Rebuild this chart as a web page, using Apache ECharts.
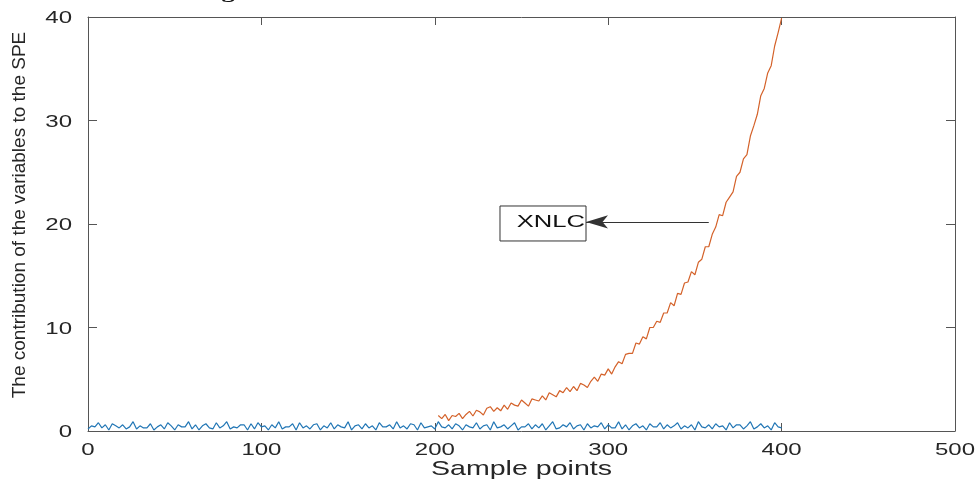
<!DOCTYPE html>
<html><head><meta charset="utf-8">
<script src="https://cdn.jsdelivr.net/npm/echarts@6/dist/echarts.min.js"></script>
<style>html,body{margin:0;padding:0;background:#fff}#c{width:979px;height:482px}</style>
</head><body><div id="c"></div>
<script>
const titleText = 'Figure 6. Contribution of the XNLC sensor variable';
const xName = 'Sample points';
const yName = 'The contribution of the variables to the SPE';
const xTicks = [0, 100, 200, 300, 400, 500];
const yTicks = [0, 10, 20, 30, 40];

// blue series: sample points 0,2,4,...,400
const blueStart = 0, blueStep = 2;
const blueValues = [
0.2,0.5,0.4,0.8,0.3,0.6,0.1,0.7,0.5,0.3,
0.6,0.2,0.4,0.9,0.2,0.5,0.3,0.3,0.7,0.1,
0.4,0.6,0.2,0.8,0.5,0.1,0.6,0.4,0.4,0.9,
0.2,0.6,0.1,0.5,0.7,0.3,0.2,0.8,0.3,0.5,
0.9,0.2,0.4,0.3,0.6,0.6,0.1,0.7,0.2,0.8,
0.4,0.5,0.1,0.6,0.3,0.9,0.2,0.4,0.4,0.7,
0.1,0.8,0.3,0.5,0.2,0.6,0.7,0.1,0.5,0.3,
0.8,0.2,0.6,0.4,0.3,0.9,0.1,0.5,0.6,0.2,
0.7,0.3,0.5,0.1,0.8,0.4,0.4,0.6,0.2,0.9,
0.3,0.5,0.2,0.7,0.6,0.1,0.8,0.3,0.4,0.5,
0.2,0.9,0.4,0.3,0.6,0.2,0.7,0.5,0.1,0.6,
0.4,0.3,0.8,0.2,0.5,0.6,0.1,0.9,0.3,0.4,
0.6,0.2,0.5,0.8,0.1,0.4,0.4,0.7,0.2,0.6,
0.3,0.7,0.1,0.5,0.9,0.2,0.3,0.6,0.4,0.8,
0.2,0.5,0.6,0.1,0.7,0.3,0.5,0.4,0.8,0.2,
0.6,0.3,0.3,0.9,0.2,0.6,0.1,0.5,0.7,0.3,
0.5,0.1,0.7,0.4,0.4,0.8,0.2,0.6,0.3,0.5,
0.8,0.2,0.5,0.3,0.6,0.1,0.9,0.4,0.3,0.6,
0.2,0.7,0.4,0.5,0.1,0.8,0.3,0.6,0.6,0.2,
0.5,0.9,0.2,0.4,0.7,0.3,0.5,0.1,0.8,0.4,
0.3
];

// orange (XNLC) series: sample points 202,204,...,400
const orangeStart = 202, orangeStep = 2;
const orangeValues = [
1.5,1.2,1.6,1.0,1.5,1.4,1.7,1.2,1.6,1.9,
1.45,2.0,1.85,1.55,2.2,2.35,1.9,2.25,1.95,2.5,
2.1,2.7,2.5,2.4,3.0,2.7,2.4,3.1,3.0,2.9,
3.4,3.0,3.7,3.5,3.3,3.9,3.7,4.2,3.8,4.3,
3.9,4.6,4.45,4.2,4.8,5.2,4.8,5.5,5.4,6.0,
5.5,6.2,6.7,6.5,7.4,7.5,7.5,8.5,8.4,9.1,
8.9,10.0,10.0,10.6,10.5,11.4,11.4,12.4,12.1,13.3,
13.2,14.3,14.4,15.4,15.1,16.3,16.6,17.8,17.8,19.0,
19.7,20.9,20.8,22.1,22.6,23.1,24.6,25.0,26.3,26.7,
28.5,29.5,30.6,32.4,33.1,34.6,35.3,37.2,38.5,39.9
];

// annotation (data coordinates)
const annotationText = 'XNLC';
const annotationBox = [237.6, 21.74, 287.2, 18.36];
const arrowFrom = [358, 20.2];
const arrowTo = [287.2, 20.2];

const blueData = blueValues.map((v, i) => [blueStart + i * blueStep, v]);
const orangeData = orangeValues.map((v, i) => [orangeStart + i * orangeStep, v]);

const axisColor = '#555';
function xAx(pos) {
  return { type: 'value', min: 0, max: 500, interval: 100, position: pos,
    axisLine: { show: true, onZero: false, lineStyle: { color: axisColor, width: 1 } },
    axisTick: { show: true, inside: true, length: 8, lineStyle: { color: axisColor } },
    axisLabel: { show: false }, splitLine: { show: false } };
}
function yAx(pos) {
  return { type: 'value', min: 0, max: 40, interval: 10, position: pos,
    axisLine: { show: true, onZero: false, lineStyle: { color: axisColor, width: 1 } },
    axisTick: { show: true, inside: true, length: 9, lineStyle: { color: axisColor } },
    axisLabel: { show: false }, splitLine: { show: false } };
}

const blueColor = '#2176B5';
const orangeColor = '#D4622A';
const chart = echarts.init(document.getElementById('c'), null, { renderer: 'canvas' });
const option = {
  animation: false,
  backgroundColor: '#fff',
  grid: { left: 88, right: 24, top: 17, bottom: 51, show: false },
  xAxis: [xAx('bottom'), xAx('top')],
  yAxis: [yAx('left'), yAx('right')],
  series: [
    { type: 'line', name: 'blue', data: blueData, showSymbol: false, symbol: 'none',
      lineStyle: { color: blueColor, width: 1.2 }, itemStyle: { color: blueColor }, z: 3 },
    { type: 'line', name: annotationText, data: orangeData, showSymbol: false, symbol: 'none', clip: true,
      lineStyle: { color: orangeColor, width: 1.2 }, itemStyle: { color: orangeColor }, z: 2,
      markLine: { silent: true, animation: false, symbol: ['none', 'arrow'], symbolSize: [10, 22],
        lineStyle: { color: '#333', width: 1, type: 'solid' }, label: { show: false },
        data: [[{ coord: arrowFrom }, { coord: arrowTo }]] } }
  ]
};
chart.setOption(option);

const px = v => chart.convertToPixel({ xAxisIndex: 0 }, v);
const py = v => chart.convertToPixel({ yAxisIndex: 0 }, v);
const g = [];
const tickFont = '16px "Liberation Sans", Arial, sans-serif';
xTicks.forEach(t => g.push({ type: 'text', x: px(t), y: 451, scaleX: 1.5, silent: true,
  style: { text: String(t), font: tickFont, fill: '#262626', textAlign: 'center', textVerticalAlign: 'middle', align: 'center', verticalAlign: 'middle' } }));
yTicks.forEach(t => g.push({ type: 'text', x: 72, y: py(t) + 2, scaleX: 1.5, silent: true,
  style: { text: String(t), font: tickFont, fill: '#262626', textAlign: 'right', textVerticalAlign: 'middle', align: 'right', verticalAlign: 'middle' } }));
g.push({ type: 'text', x: (px(0) + px(500)) / 2, y: 469, scaleX: 1.36, silent: true,
  style: { text: xName, font: '21px "Liberation Sans", Arial, sans-serif', fill: '#262626', textAlign: 'center', textVerticalAlign: 'middle', align: 'center', verticalAlign: 'middle' } });
g.push({ type: 'text', x: 19.5, y: 215, rotation: Math.PI / 2, silent: true,
  style: { text: yName, font: '19px "Liberation Sans", Arial, sans-serif', fill: '#262626', textAlign: 'center', textVerticalAlign: 'middle', align: 'center', verticalAlign: 'middle' } });
g.push({ type: 'text', x: 198, y: 2, scaleX: 1.55, silent: true,
  style: { text: titleText, font: 'bold 17px "Liberation Serif", "Times New Roman", serif', fill: '#111', textAlign: 'left', textVerticalAlign: 'bottom', align: 'left', verticalAlign: 'bottom' } });
const bx1 = px(annotationBox[0]), by1 = py(annotationBox[1]), bx2 = px(annotationBox[2]), by2 = py(annotationBox[3]);
g.push({ type: 'rect', silent: true, shape: { x: bx1, y: by1, width: bx2 - bx1, height: by2 - by1 },
  style: { fill: 'none', stroke: '#333', lineWidth: 1 }, z: 10 });
g.push({ type: 'text', x: bx2 - 1, y: (by1 + by2) / 2 - 1, scaleX: 1.6, silent: true, z: 10,
  style: { text: annotationText, font: '16px "Liberation Sans", Arial, sans-serif', fill: '#111', textAlign: 'right', textVerticalAlign: 'middle', align: 'right', verticalAlign: 'middle' } });
chart.setOption({ graphic: { elements: g } });
</script>
</body></html>
